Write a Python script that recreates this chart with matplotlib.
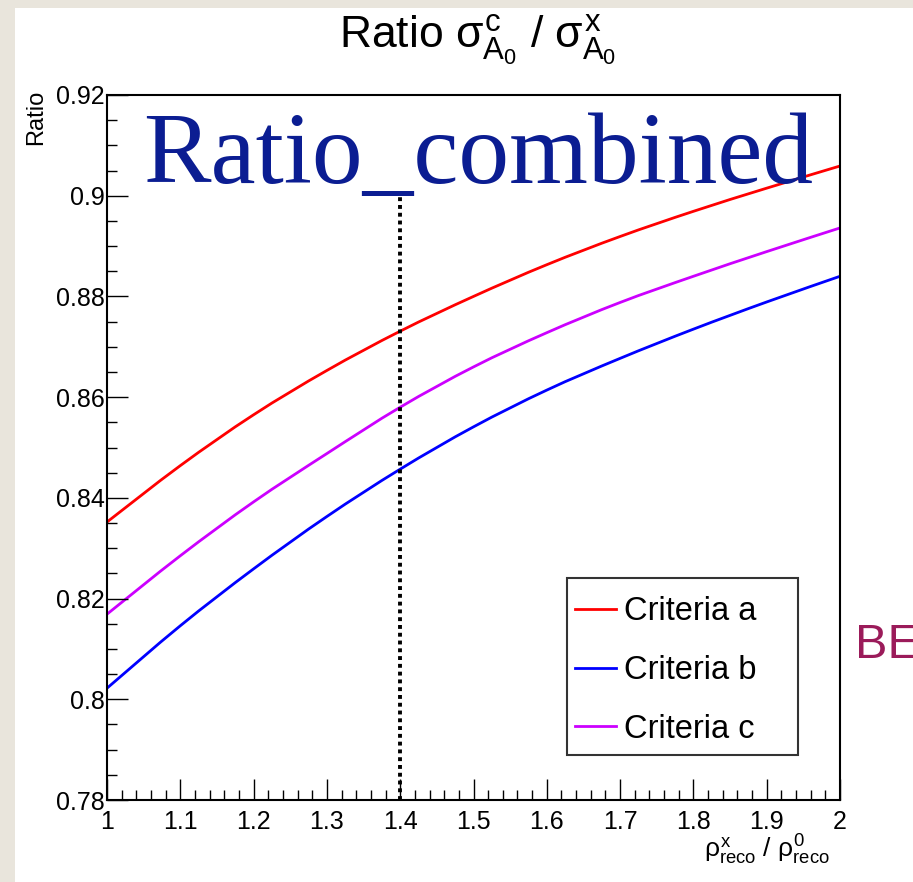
import matplotlib
matplotlib.use("Agg")
import matplotlib.pyplot as plt
from matplotlib.patches import Rectangle, PathPatch
from matplotlib.path import Path
from matplotlib.lines import Line2D
from matplotlib.ticker import MultipleLocator

plt.rcParams['font.family'] = ['Liberation Sans', 'DejaVu Sans']
plt.rcParams['mathtext.fontset'] = 'custom'
plt.rcParams['mathtext.rm'] = 'Liberation Sans'
plt.rcParams['mathtext.it'] = 'Liberation Sans'
plt.rcParams['mathtext.bf'] = 'Liberation Sans:bold'

# data
x_vals = [1.0, 1.1, 1.2, 1.3, 1.4, 1.5, 1.6, 1.7, 1.8, 1.9, 2.0]
crit_a = [0.8352, 0.8464, 0.8565, 0.8653, 0.8731, 0.8800, 0.8863, 0.8919, 0.8969, 0.9015, 0.9059]
crit_b = [0.8022, 0.8146, 0.8259, 0.8363, 0.8457, 0.8541, 0.8614, 0.8677, 0.8735, 0.8789, 0.8840]
crit_c = [0.8169, 0.8285, 0.8392, 0.8488, 0.8580, 0.8660, 0.8728, 0.8788, 0.8840, 0.8889, 0.8936]
labels = ['Criteria a', 'Criteria b', 'Criteria c']
colors = ['#ff0000', '#0000ff', '#cc00ff']
marker_x = 1.4
marker_top = 0.9

x_ticks = [1.0, 1.1, 1.2, 1.3, 1.4, 1.5, 1.6, 1.7, 1.8, 1.9, 2.0]
x_ticklabels = ['1', '1.1', '1.2', '1.3', '1.4', '1.5', '1.6', '1.7', '1.8', '1.9', '2']
y_ticks = [0.78, 0.80, 0.82, 0.84, 0.86, 0.88, 0.90, 0.92]
y_ticklabels = ['0.78', '0.8', '0.82', '0.84', '0.86', '0.88', '0.9', '0.92']


def smooth_path(xs, ys):
    # catmull-rom through the points, as cubic bezier segments
    n = len(xs)
    verts = [(xs[0], ys[0])]
    codes = [Path.MOVETO]
    for i in range(n - 1):
        a = max(i - 1, 0)
        b = min(i + 2, n - 1)
        c1 = (xs[i] + (xs[i + 1] - xs[a]) / 6, ys[i] + (ys[i + 1] - ys[a]) / 6)
        c2 = (xs[i + 1] - (xs[b] - xs[i]) / 6, ys[i + 1] - (ys[b] - ys[i]) / 6)
        verts += [c1, c2, (xs[i + 1], ys[i + 1])]
        codes += [Path.CURVE4] * 3
    return Path(verts, codes)


W, H = 913, 882
fig = plt.figure(figsize=(W / 100, H / 100), dpi=100, facecolor='#e9e5dc')
# white canvas over the beige backdrop
fig.patches.append(Rectangle((15 / W, 0), 1 - 15 / W, 1 - 8 / H, transform=fig.transFigure,
                             facecolor='white', edgecolor='none', zorder=-10))

ax = fig.add_axes([107 / W, 1 - 800 / H, 733 / W, 705 / H])
for ys, c in zip([crit_a, crit_b, crit_c], colors):
    ax.add_patch(PathPatch(smooth_path(x_vals, ys), facecolor='none', edgecolor=c, lw=2.0))
ax.plot([marker_x, marker_x], [0.78, marker_top], color='black', lw=2.8, linestyle=(0, (1, 1)))

ax.set_xlim(1.0, 2.0)
ax.set_ylim(0.78, 0.92)
ax.set_xticks(x_ticks)
ax.set_xticklabels(x_ticklabels)
ax.set_yticks(y_ticks)
ax.set_yticklabels(y_ticklabels)
ax.xaxis.set_minor_locator(MultipleLocator(0.02))
ax.yaxis.set_minor_locator(MultipleLocator(0.005))
ax.tick_params(which='both', direction='in', top=False, right=False, width=1, labelsize=18)
ax.tick_params(which='major', length=15)
ax.tick_params(which='minor', length=7.5)
ax.tick_params(axis='y', pad=1.5)
ax.tick_params(axis='x', pad=7)
for s in ax.spines.values():
    s.set_linewidth(1.5)

# legend frame drawn by hand, entries from a figure legend on top of it
fig.patches.append(Rectangle((567 / W, 1 - 755 / H), 231 / W, 177 / H, transform=fig.transFigure,
                             facecolor='white', edgecolor='#333333', lw=1.5, zorder=4))
handles = [Line2D([], [], color=c, lw=2.0) for c in colors]
leg = fig.legend(handles, labels, loc='upper left', bbox_to_anchor=(572 / W, 1 - 593 / H),
                 bbox_transform=fig.transFigure, borderaxespad=0, fontsize=23.5, frameon=False,
                 handlelength=1.25, handletextpad=0.25, labelspacing=0.85, borderpad=0.1)
leg.set_zorder(5)

fig.text(478 / W, 1 - 40 / H, r'Ratio $\sigma^{c}_{A_{0}}$ / $\sigma^{x}_{A_{0}}$',
         ha='center', va='center', fontsize=32)
fig.text(36 / W, 1 - 90 / H, 'Ratio', rotation=90, ha='center', va='top', fontsize=17)
fig.text(830 / W, 1 - 850 / H, r'$\rho^{x}_{reco}$ / $\rho^{0}_{reco}$', ha='right', va='center', fontsize=19)
fig.text(143 / W, 1 - 183 / H, 'Ratio_combined', family='Liberation Serif', fontsize=73,
         color='#0b1d92', va='baseline', ha='left')
fig.text(855 / W, 1 - 646 / H, 'BE', fontsize=35, color='#9b1b5a', va='center', ha='left')

fig.savefig('out.png', dpi=100, facecolor=fig.get_facecolor())
